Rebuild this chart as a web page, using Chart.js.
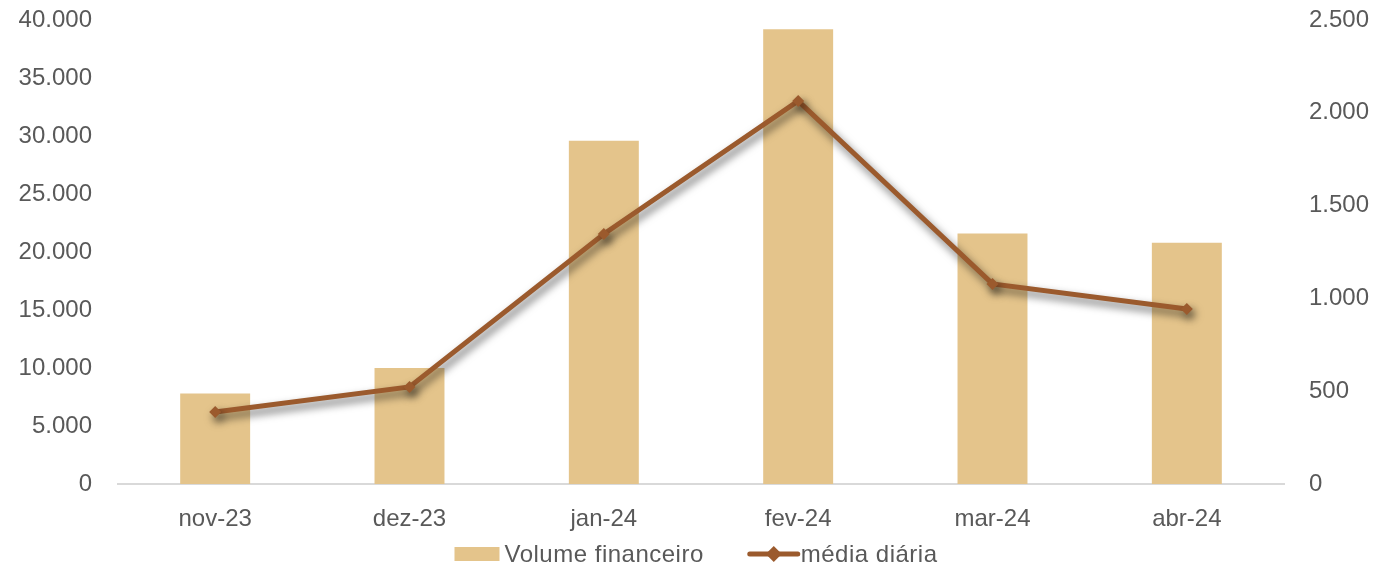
<!DOCTYPE html>
<html>
<head>
<meta charset="utf-8">
<script src="https://cdn.jsdelivr.net/npm/chart.js@4.4.1/dist/chart.umd.min.js"></script>
<style>
  html, body { margin: 0; padding: 0; background: #fff; }
  #wrap { width: 1383px; height: 570px; }
</style>
</head>
<body>
<div id="wrap"><canvas id="chart" width="1383" height="570"></canvas></div>
<script>
// months on the x axis
const months = ['nov-23', 'dez-23', 'jan-24', 'fev-24', 'mar-24', 'abr-24'];
// bars, left axis
const volume = [7800, 10000, 29600, 39200, 21600, 20800];
// line, right axis
const dailyAvg = [388, 523, 1347, 2064, 1078, 943];

const labelVolume = 'Volume financeiro';
const labelDaily = 'média diária';

const barColor = '#E4C48B';
const lineColor = '#9B5A2D';
const textColor = '#595959';
const font = { family: "'Liberation Sans', Arial, sans-serif", size: 24 };

// 40000 -> "40.000"
const fmt = (v) => String(v).replace(/\B(?=(\d{3})+(?!\d))/g, '.');

// fixed axis widths, no extra room kept for the end labels
const fitY = (width) => (s) => {
  s.width = width;
  s.paddingTop = 0;
  s.paddingBottom = 0;
};

/** Drop shadow under the line series. */
const lineShadow = {
  id: 'lineShadow',
  beforeDatasetDraw(chart, args) {
    if (args.index !== 1) return;
    const ctx = chart.ctx;
    ctx.save();
    ctx.shadowColor = 'rgba(0, 0, 0, 0.6)';
    ctx.shadowBlur = 8;
    ctx.shadowOffsetX = 3;
    ctx.shadowOffsetY = 5;
  },
  afterDatasetDraw(chart, args) {
    if (args.index !== 1) return;
    chart.ctx.restore();
  },
};

/** Legend at the bottom: box for the bars, line with diamond for the line. */
const bottomLegend = {
  id: 'bottomLegend',
  afterDraw(chart) {
    const ctx = chart.ctx;
    const ds = chart.data.datasets;
    ctx.save();
    ctx.font = `${font.size}px ${font.family}`;
    ctx.textBaseline = 'middle';
    ctx.letterSpacing = '0.5px';
    ctx.fillStyle = textColor;
    const w1 = ctx.measureText(ds[0].label).width;
    const w2 = ctx.measureText(ds[1].label).width;
    const total = 45 + 5 + w1 + 46 + 48 + 3 + w2;
    const y = 554;
    let x = (chart.chartArea.left + chart.chartArea.right) / 2 - 5 - total / 2;

    ctx.fillStyle = barColor;
    ctx.fillRect(x, y - 7, 45, 14);
    x += 50;
    ctx.fillStyle = textColor;
    ctx.fillText(ds[0].label, x, y + 1);
    x += w1 + 46;

    ctx.strokeStyle = lineColor;
    ctx.lineWidth = 5;
    ctx.lineCap = 'round';
    ctx.beginPath();
    ctx.moveTo(x, y);
    ctx.lineTo(x + 48, y);
    ctx.stroke();
    ctx.fillStyle = lineColor;
    ctx.beginPath();
    ctx.moveTo(x + 24, y - 8);
    ctx.lineTo(x + 32, y);
    ctx.lineTo(x + 24, y + 8);
    ctx.lineTo(x + 16, y);
    ctx.closePath();
    ctx.fill();
    x += 51;
    ctx.fillStyle = textColor;
    ctx.fillText(ds[1].label, x, y + 1);
    ctx.restore();
  },
};

const config = {
  data: {
    labels: months,
    datasets: [
      {
        type: 'bar',
        label: labelVolume,
        data: volume,
        backgroundColor: barColor,
        yAxisID: 'y',
        categoryPercentage: 1,
        barPercentage: 0.36,
        order: 2,
      },
      {
        type: 'line',
        label: labelDaily,
        data: dailyAvg,
        borderColor: lineColor,
        backgroundColor: lineColor,
        borderWidth: 5,
        pointStyle: 'rectRot',
        pointRadius: 6,
        pointBorderWidth: 0,
        tension: 0,
        yAxisID: 'y1',
        order: 1,
      },
    ],
  },
  options: {
    responsive: false,
    animation: false,
    layout: { padding: { top: 20, left: 0, right: 0, bottom: 0 } },
    plugins: {
      legend: { display: false },
      tooltip: { enabled: false },
    },
    scales: {
      x: {
        grid: { display: false, drawTicks: false },
        border: { display: true, color: '#D9D9D9', width: 2 },
        ticks: { color: textColor, font, padding: 21 },
        afterFit: (s) => { s.height = 86; },
      },
      y: {
        position: 'left',
        min: 0,
        max: 40000,
        grid: { display: false, drawTicks: false },
        border: { display: false },
        ticks: { stepSize: 5000, color: textColor, font, padding: 26, callback: fmt },
        afterFit: fitY(118),
      },
      y1: {
        position: 'right',
        min: 0,
        max: 2500,
        grid: { display: false, drawTicks: false },
        border: { display: false },
        ticks: { stepSize: 500, color: textColor, font, padding: 25, callback: fmt },
        afterFit: fitY(99),
      },
    },
  },
  plugins: [lineShadow, bottomLegend],
};

new Chart(document.getElementById('chart').getContext('2d'), config);
</script>
</body>
</html>
